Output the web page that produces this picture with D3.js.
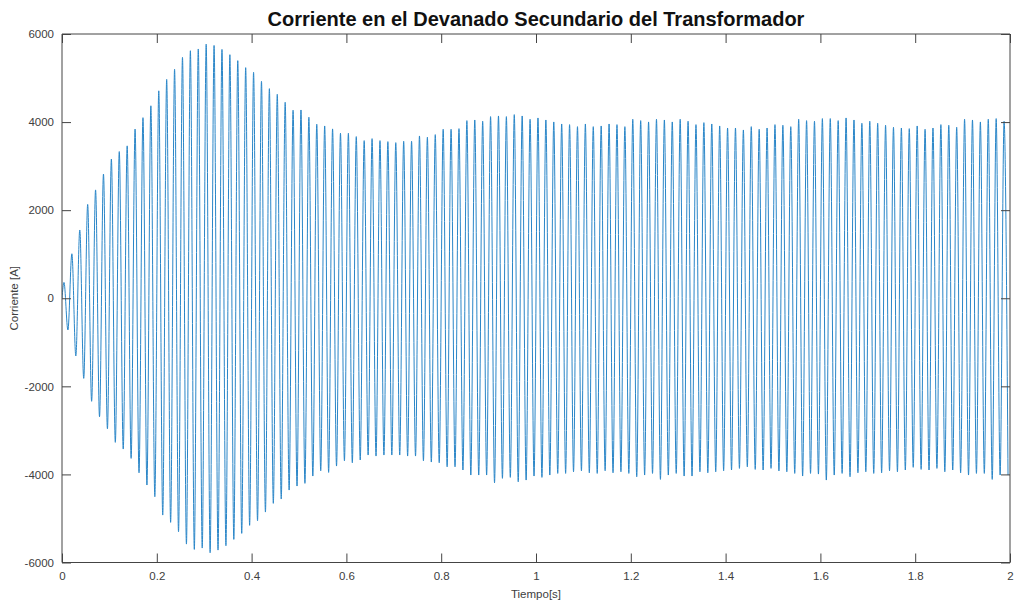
<!DOCTYPE html>
<html>
<head>
<meta charset="utf-8">
<script src="https://cdn.jsdelivr.net/npm/d3@7"></script>
<style>
  html, body { margin: 0; padding: 0; background: #fff; }
  svg { display: block; }
  text { font-family: "Liberation Sans", Arial, Helvetica, sans-serif; }
</style>
</head>
<body>
<svg id="chart" width="1016" height="604"></svg>
<script>
// ---- Data ----
const title = "Corriente en el Devanado Secundario del Transformador";
const xLabel = "Tiempo[s]";
const yLabel = "Corriente [A]";
const freq = 60; // Hz, one positive peak and one negative peak per cycle
// Positive peak of each cycle k (at t = (k+0.25)/freq)
const peaks = [
  360, 1010, 1550, 2130, 2460, 2820, 3160, 3330, 3460, 3840,
  4100, 4370, 4710, 4970, 5200, 5470, 5620, 5660, 5770, 5740,
  5650, 5530, 5395, 5236, 5131, 4926, 4759, 4631, 4450, 4268,
  4275, 4109, 3950, 3912, 3845, 3746, 3745, 3670, 3579, 3624,
  3579, 3556, 3533, 3563, 3563, 3685, 3655, 3715, 3836, 3836,
  3851, 4033, 4048, 4018, 4124, 4139, 4124, 4169, 4139, 4063,
  4094, 4048, 4003, 3957, 3942, 3896, 3957, 3896, 3912, 3957,
  3942, 3896, 4063, 4033, 4003, 4063, 4048, 4003, 4063, 4018,
  3942, 3987, 3957, 3912, 3866, 3866, 3821, 3896, 3836, 3866,
  3942, 3927, 3896, 4063, 4033, 4018, 4079, 4079, 4033, 4094,
  4048, 3972, 4018, 3972, 3927, 3881, 3866, 3851, 3912, 3836,
  3866, 3942, 3927, 3881, 4063, 4048, 4003, 4063, 4079, 4018
];
// Negative peak of each cycle k (at t = (k+0.75)/freq)
const troughs = [
  -721, -1311, -1819, -2340, -2690, -2962, -3272, -3424, -3636, -3962,
  -4241, -4507, -4923, -5089, -5302, -5582, -5703, -5672, -5779, -5718,
  -5620, -5475, -5339, -5157, -5052, -4855, -4657, -4559, -4355, -4264,
  -4203, -4037, -3916, -3954, -3810, -3689, -3734, -3673, -3560, -3583,
  -3560, -3560, -3560, -3583, -3583, -3689, -3719, -3734, -3826, -3826,
  -3900, -4014, -4014, -4014, -4189, -4089, -4067, -4166, -4128, -4037,
  -4067, -4014, -3977, -3977, -3939, -3916, -3962, -3977, -3916, -3962,
  -3939, -3977, -4052, -4014, -3977, -4113, -4014, -3977, -4037, -4037,
  -3939, -3962, -3939, -3916, -3900, -3863, -3826, -3886, -3900, -3863,
  -3920, -3939, -3977, -4037, -3977, -3992, -4128, -4014, -3977, -4052,
  -3962, -3939, -3977, -3962, -3916, -3939, -3900, -3839, -3886, -3900,
  -3863, -3939, -3900, -3962, -4014, -3977, -3977, -4113, -4014, -4014
];
const xTicks = [0, 0.2, 0.4, 0.6, 0.8, 1, 1.2, 1.4, 1.6, 1.8, 2];
const xTickLabels = ["0", "0.2", "0.4", "0.6", "0.8", "1", "1.2", "1.4", "1.6", "1.8", "2"];
const yTicks = [-6000, -4000, -2000, 0, 2000, 4000, 6000];
const yTickLabels = ["-6000", "-4000", "-2000", "0", "2000", "4000", "6000"];

// ---- Build the sample series ----
const samples = [[0, 0]];
peaks.forEach((p, k) => {
  samples.push([(k + 0.25) / freq, p]);
  samples.push([(k + 0.75) / freq, troughs[k]]);
});

// ---- Layout ----
const svg = d3.select("#chart");
const mLeft = 62, mRight = 1010, mTop = 34, mBottom = 562.5;
const x = d3.scaleLinear().domain([0, 2]).range([mLeft, mRight]);
const y = d3.scaleLinear().domain([-6000, 6000]).range([mBottom, mTop]);
const axisColor = "#444";
const textColor = "#404040";

svg.append("defs").append("clipPath").attr("id", "clip")
  .append("rect").attr("x", mLeft).attr("y", mTop)
  .attr("width", mRight - mLeft).attr("height", mBottom - mTop);

// Signal
const line = d3.line()
  .x(d => x(d[0])).y(d => y(d[1]))
  .curve(d3.curveMonotoneX);
svg.append("path")
  .datum(samples)
  .attr("clip-path", "url(#clip)")
  .attr("fill", "none")
  .attr("stroke", "#2a86c8")
  .attr("stroke-width", 1)
  .attr("d", line);

// Axes (MATLAB style, inward ticks, box)
const tickLen = 9;
const gxb = svg.append("g").attr("transform", `translate(0,${mBottom})`)
  .call(d3.axisBottom(x).tickValues(xTicks).tickSize(-tickLen).tickPadding(14)
    .tickFormat((d, i) => xTickLabels[i]));
const gxt = svg.append("g").attr("transform", `translate(0,${mTop})`)
  .call(d3.axisTop(x).tickValues(xTicks).tickSize(-tickLen).tickFormat(""));
const gyl = svg.append("g").attr("transform", `translate(${mLeft},0)`)
  .call(d3.axisLeft(y).tickValues(yTicks).tickSize(-tickLen).tickPadding(8)
    .tickFormat((d, i) => yTickLabels[i]));
const gyr = svg.append("g").attr("transform", `translate(${mRight},0)`)
  .call(d3.axisRight(y).tickValues(yTicks).tickSize(-tickLen).tickFormat(""));

[gxb, gxt, gyl, gyr].forEach(g => {
  g.select(".domain").attr("stroke", axisColor).attr("stroke-width", 1);
  g.selectAll(".tick line").attr("stroke", axisColor);
  g.selectAll(".tick text").attr("fill", textColor)
    .style("font-size", "11.5px")
    .style("font-family", "'Liberation Sans', Arial, sans-serif");
});
gxb.selectAll(".tick text").attr("dy", "0.3em");
gxb.select(".domain").attr("d", `M${mLeft},0H${mRight}`);
gxt.select(".domain").attr("d", `M${mLeft},0H${mRight}`);
gyl.select(".domain").attr("d", `M0,${y(-6000)}V${y(6000)}`);
gyr.select(".domain").attr("d", `M0,${y(-6000)}V${y(6000)}`);

// Title and labels
svg.append("text")
  .attr("x", (mLeft + mRight) / 2).attr("y", 26)
  .attr("text-anchor", "middle")
  .attr("font-weight", "bold")
  .attr("font-size", 20)
  .attr("fill", "#111")
  .text(title);

svg.append("text")
  .attr("x", (mLeft + mRight) / 2).attr("y", 598)
  .attr("text-anchor", "middle")
  .attr("font-size", 11.5)
  .attr("fill", textColor)
  .text(xLabel);

svg.append("text")
  .attr("transform", `translate(18,${(mTop + mBottom) / 2}) rotate(-90)`)
  .attr("text-anchor", "middle")
  .attr("font-size", 11.5)
  .attr("fill", textColor)
  .text(yLabel);
</script>
</body>
</html>
